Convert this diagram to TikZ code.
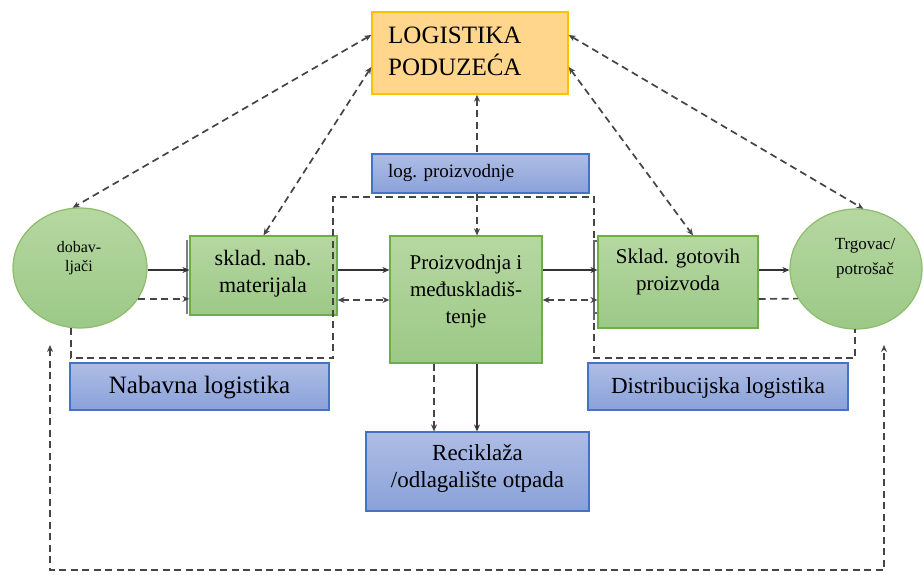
\documentclass[tikz,border=0pt]{standalone}
\usepackage{fontspec}
\setmainfont{Liberation Serif}
\usetikzlibrary{arrows.meta,shapes.geometric}
\definecolor{gtop}{HTML}{B6D7A1}
\definecolor{gbot}{HTML}{9CC987}
\definecolor{gline}{HTML}{70AD47}
\definecolor{btop}{HTML}{AEBDE5}
\definecolor{bbot}{HTML}{8AA1D9}
\definecolor{bline}{HTML}{4472C4}
\definecolor{ofill}{HTML}{FFD68C}
\definecolor{oline}{HTML}{FFC000}
\definecolor{dline}{HTML}{454545}
\definecolor{sline}{HTML}{333333}
\tikzset{
  x=1pt,y=-1pt,
  greenbox/.style={draw=gline,line width=1.2pt,top color=gtop,bottom color=gbot,inner sep=0},
  bluebox/.style={draw=bline,line width=1.2pt,top color=btop,bottom color=bbot,inner sep=0},
  greenell/.style={ellipse,draw=gline!80!white,line width=1.2pt,top color=gtop,bottom color=gbot,inner sep=0},
  txt/.style={inner sep=0,align=center,text=black},
  tip/.tip={Stealth[length=7pt,width=6pt]},
  dashline/.style={draw=dline,line width=1.7pt,dash pattern=on 7pt off 4.5pt},
  solidline/.style={draw=sline,line width=1.5pt},
}
\begin{document}
\begin{tikzpicture}
\useasboundingbox (0,0) rectangle (923,574);
\fill[white] (0,0) rectangle (923,574);
% boxes
\node[draw=oline,line width=1.4pt,fill=ofill,inner sep=0,minimum width=196pt,minimum height=82pt] (log) at (470,53) {};
\node[bluebox,minimum width=217pt,minimum height=39pt] (logp) at (480.5,173.5) {};
\node[greenell,minimum width=134pt,minimum height=120pt] (dob) at (80,268) {};
\node[greenell,minimum width=132pt,minimum height=120pt] (trg) at (856,269) {};
\node[greenbox,minimum width=147pt,minimum height=79pt] (skl) at (263.5,275.5) {};
\node[greenbox,minimum width=152pt,minimum height=127pt] (prod) at (466,299.5) {};
\node[greenbox,minimum width=160pt,minimum height=92pt] (got) at (678,282) {};
\node[bluebox,minimum width=259pt,minimum height=47pt] (nab) at (199.5,386.5) {};
\node[bluebox,minimum width=260pt,minimum height=47pt] (dis) at (718,386.5) {};
\node[bluebox,minimum width=223pt,minimum height=79pt] (rec) at (477.5,471.5) {};
% texts
\node[txt,anchor=west,align=left,font=\fontsize{25}{32}\selectfont] (logt) at (388,51) {LOGISTIKA\\PODUZEĆA};
\node[txt,anchor=base west,font=\fontsize{19}{23}\selectfont] (logpt) at (388,177) {log. proizvodnje};
\node[txt,font=\fontsize{16}{19}\selectfont] (dobt) at (79,258) {dobav-\\ljači};
\node[txt,font=\fontsize{17}{25}\selectfont] (trgt) at (865,258) {Trgovac/\\potrošač};
\node[txt,font=\fontsize{22}{27}\selectfont] (sklt) at (263,273.5) {sklad. nab.\\materijala};
\node[txt,font=\fontsize{21}{27}\selectfont] (prodt) at (466,291) {Proizvodnja i\\međuskladiš-\\tenje};
\node[txt,font=\fontsize{21}{27}\selectfont] (gott) at (678,271.5) {Sklad. gotovih\\proizvoda};
\node[txt,anchor=base,font=\fontsize{25}{30}\selectfont] (nabt) at (199.5,393) {Nabavna logistika};
\node[txt,anchor=base,font=\fontsize{23}{28}\selectfont] (dist) at (718,393) {Distribucijska logistika};
\node[txt,font=\fontsize{23}{27}\selectfont] (rect) at (477.5,468) {Reciklaža\\/odlagalište otpada};
% frames (dashed)
\draw[dashline] (71,328) -- (71,358) -- (333,358) -- (333,197) -- (594,197) -- (594,358) -- (855,358) -- (855,329);
% bars
\draw[draw=gray,line width=2.4pt] (187,240) -- (187,314);
\draw[draw=gray!80!black,line width=1.6pt] (594,240) -- (594,320);
\draw[draw=gray!80!black,line width=1.3pt] (594,241) -- (got.west |- 0,241);
\draw[draw=gray!80!black,line width=1.3pt] (594,313) -- (got.west |- 0,313);
% horizontal flows
\draw[solidline,-tip] (dob.east |- 0,270) -- (skl.west |- 0,270);
\draw[dashline,-tip] (dob.-28.5) -- (dob.-28.5 -| skl.west);
\draw[solidline,-tip] (skl.east |- 0,270) -- (prod.west |- 0,270);
\draw[dashline,tip-tip] (skl.east |- 0,300) -- (prod.west |- 0,300);
\draw[solidline,-tip] (prod.east |- 0,270) -- (got.west |- 0,270);
\draw[dashline,tip-tip] (prod.east |- 0,300) -- (got.west |- 0,300);
\draw[solidline,-tip] (got.east |- 0,270) -- (trg.west |- 0,270);
\draw[dashline] (got.east |- 0,299) -- (trg.207.7);
% vertical flows
\draw[dashline,tip-] ([xshift=7pt]log.south) -- ([xshift=7pt]log.south |- logp.north);
\draw[dashline,-tip] ([xshift=11pt]prod.north |- logp.south) -- ([xshift=11pt]prod.north);
\draw[solidline,-tip] ([xshift=11pt]prod.south) -- ([xshift=11pt]prod.south |- rec.north);
\draw[dashline,-tip] ([xshift=-32pt]prod.south) -- ([xshift=-32pt]prod.south |- rec.north);
% diagonal links to LOGISTIKA
\draw[dashline,tip-tip] ([yshift=18pt]log.west) -- (dob.97);
\draw[dashline,tip-tip] ([yshift=-14pt]log.west) -- (skl.north);
\draw[dashline,tip-tip] ([yshift=18pt]log.east) -- (trg.83);
\draw[dashline,tip-tip] ([yshift=-14pt]log.east) -- ([xshift=15pt]got.north);
% feedback loop
\coordinate (fl) at (50,345);
\coordinate (fr) at (884,345);
\draw[dashline,tip-tip] (fl) -- (fl |- 0,570) -- (fr |- 0,570) -- (fr);
\end{tikzpicture}
\end{document}
